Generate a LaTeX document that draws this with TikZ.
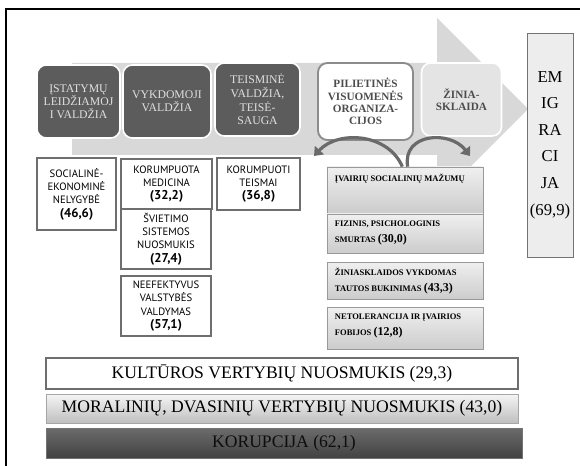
\documentclass[tikz,border=0pt]{standalone}
\usepackage{fontspec}
\setmainfont{Liberation Serif}
\newfontfamily\boxsans{PT Sans}
\usepackage{pdfrender}
\usetikzlibrary{arrows.meta}
\definecolor{bandgray}{HTML}{D8D8D8}
\definecolor{darknode}{HTML}{5C5C5C}
\definecolor{lightnode}{HTML}{E4E4E4}
\definecolor{boxline}{HTML}{6E6E6E}
\definecolor{emifill}{HTML}{EDEDED}
\definecolor{arcgray}{HTML}{6A6A6A}
\newcommand{\hollow}[1]{{\color{black!70}\textpdfrender{TextRenderingMode=Stroke,LineWidth=0.35}{#1}}}
\tikzset{
  wh/.style 2 args={minimum width=#1*0.75pt, minimum height=#2*0.75pt, inner sep=0pt},
  topdark/.style={draw=white, line width=1.2pt, fill=darknode, rounded corners=7pt,
    text=black!12, align=center, font=\fontsize{8.8}{9.6}\selectfont},
  topwhite/.style={draw=black!45, line width=1.4pt, fill=white, rounded corners=7pt,
    align=center, font=\fontsize{8.4}{9.3}\selectfont\bfseries},
  toplight/.style={draw=white, line width=1.2pt, fill=lightnode, rounded corners=7pt,
    align=center, font=\fontsize{8.4}{8.8}\selectfont\bfseries},
  emibox/.style={draw=black!55, line width=0.7pt, fill=emifill, align=center,
    font=\fontsize{12.5}{19.9}\selectfont},
  sansbox/.style={draw=boxline, line width=1.8pt, fill=white, align=center,
    font=\boxsans\fontsize{8}{10}\selectfont},
  colbox/.style={draw=black!40, line width=0.5pt, top color=black!6, bottom color=black!20},
  coltext/.style={anchor=north west, align=left, inner sep=0pt,
    font=\fontsize{6.4}{12}\selectfont\bfseries},
  barwhite/.style={draw=boxline, line width=1.4pt, fill=white, font=\fontsize{13.2}{14}\selectfont},
  barlight/.style={draw=black!35, line width=0.6pt, top color=black!4, bottom color=black!25,
    font=\fontsize{13.2}{14}\selectfont},
  bardark/.style={draw=black!55, line width=0.6pt, top color=black!58, bottom color=black!74,
    text=black!95, font=\fontsize{13.2}{14}\selectfont},
  carrow/.style={draw=arcgray, line width=2.4pt, -{Triangle[length=6pt,width=9pt]}},
}
\newcommand{\bignum}[1]{{\fontsize{9.6}{10}\selectfont\bfseries #1}}
\newcommand{\colnum}[1]{{\fontsize{9}{10}\selectfont\bfseries #1}}
\begin{document}
\begin{tikzpicture}[x=0.75pt,y=-0.75pt]
\useasboundingbox (0,0) rectangle (580,466);
\fill[white] (0,0) rectangle (580,466);
\draw[line width=0.8pt] (6,466) -- (6,9) -- (580,9);

% big arrow band
\fill[bandgray] (72,63) -- (437,63) -- (437,18) -- (528,109) -- (437,200) -- (437,155) -- (72,155) -- cycle;

% top nodes
\node[topdark, wh={83}{73}] (n1) at (78.5,101.5) {ĮSTATYMŲ\\LEIDŽIAMOJ\\I VALDŽIA};
\node[topdark, wh={88}{73}] (n2) at (167,101.5) {VYKDOMOJI\\VALDŽIA};
\node[topdark, wh={85}{73}, font=\fontsize{8.8}{10.2}\selectfont] (n3) at (257.5,99.5) {TEISMINĖ\\VALDŽIA,\\TEISĖ-\\SAUGA};
\node[topwhite, wh={95}{77}] (n4) at (365.5,101.5) {\hollow{PILIETINĖS}\\\hollow{VISUOMENĖS}\\\hollow{ORGANIZA-}\\\hollow{CIJOS}};
\node[toplight, wh={80}{73}] (n5) at (461.5,99.5) {\hollow{ŽINIA-}\\\hollow{SKLAIDA}};

% emigracija
\node[emibox, wh={46}{224}] (emi) at (550,145) {EM\\IG\\RA\\CI\\JA\\(69,9)};

% sans boxes
\node[sansbox, wh={79}{72}] (s1) at (76.5,194) {SOCIALINĖ-\\EKONOMINĖ\\NELYGYBĖ\\\bignum{(46,6)}};
\node[sansbox, wh={91}{50}] (s2) at (166.5,184) {KORUMPUOTA\\MEDICINA\\\bignum{(32,2)}};
\node[sansbox, wh={90}{60}] (s3) at (166,239) {ŠVIETIMO\\SISTEMOS\\NUOSMUKIS\\\bignum{(27,4)}};
\node[sansbox, wh={90}{60}] (s4) at (166,306) {NEEFEKTYVUS\\VALSTYBĖS\\VALDYMAS\\\bignum{(57,1)}};
\node[sansbox, wh={83}{52}] (s5) at (258.5,184) {KORUMPUOTI\\TEISMAI\\\bignum{(36,8)}};

% right column
\node[colbox, wh={156}{46}] (r1) at (405,190) {};
\node[colbox, wh={156}{39}] (r2) at (405,233.5) {};
\node[colbox, wh={156}{37}] (r3) at (405,280.5) {};
\node[colbox, wh={156}{42}] (r4) at (405,328) {};
\node[coltext] (t1) at ([shift={(8,7)}]r1.north west) {ĮVAIRIŲ SOCIALINIŲ MAŽUMŲ};
\node[coltext] (t2) at ([shift={(8,7)}]r2.north west) {FIZINIS, PSICHOLOGINIS\\SMURTAS \colnum{(30,0)}};
\node[coltext] (t3) at ([shift={(8,6)}]r3.north west) {ŽINIASKLAIDOS VYKDOMAS\\TAUTOS BUKINIMAS \colnum{(43,3)}};
\node[coltext] (t4) at ([shift={(8,7)}]r4.north west) {NETOLERANCIJA IR ĮVAIRIOS\\FOBIJOS \colnum{(12,8)}};

% curved arrows
\coordinate (la) at (314,156);
\coordinate (ra) at (470,156);
\draw[carrow] ([xshift=-2pt]r1.north) .. controls (388,133) and (338,130) .. (la);
\draw[carrow] ([xshift=2pt]r1.north) .. controls (402,133) and (450,130) .. (ra);

% bottom bars
\node[barwhite, wh={472}{31}] (b1) at (282,373.5) {KULTŪROS VERTYBIŲ NUOSMUKIS (29,3)};
\node[barlight, wh={472}{29}] (b2) at (282,408.5) {MORALINIŲ, DVASINIŲ VERTYBIŲ NUOSMUKIS (43,0)};
\node[bardark, wh={476}{30}] (b3) at (284,443) {KORUPCIJA (62,1)};
\end{tikzpicture}
\end{document}
